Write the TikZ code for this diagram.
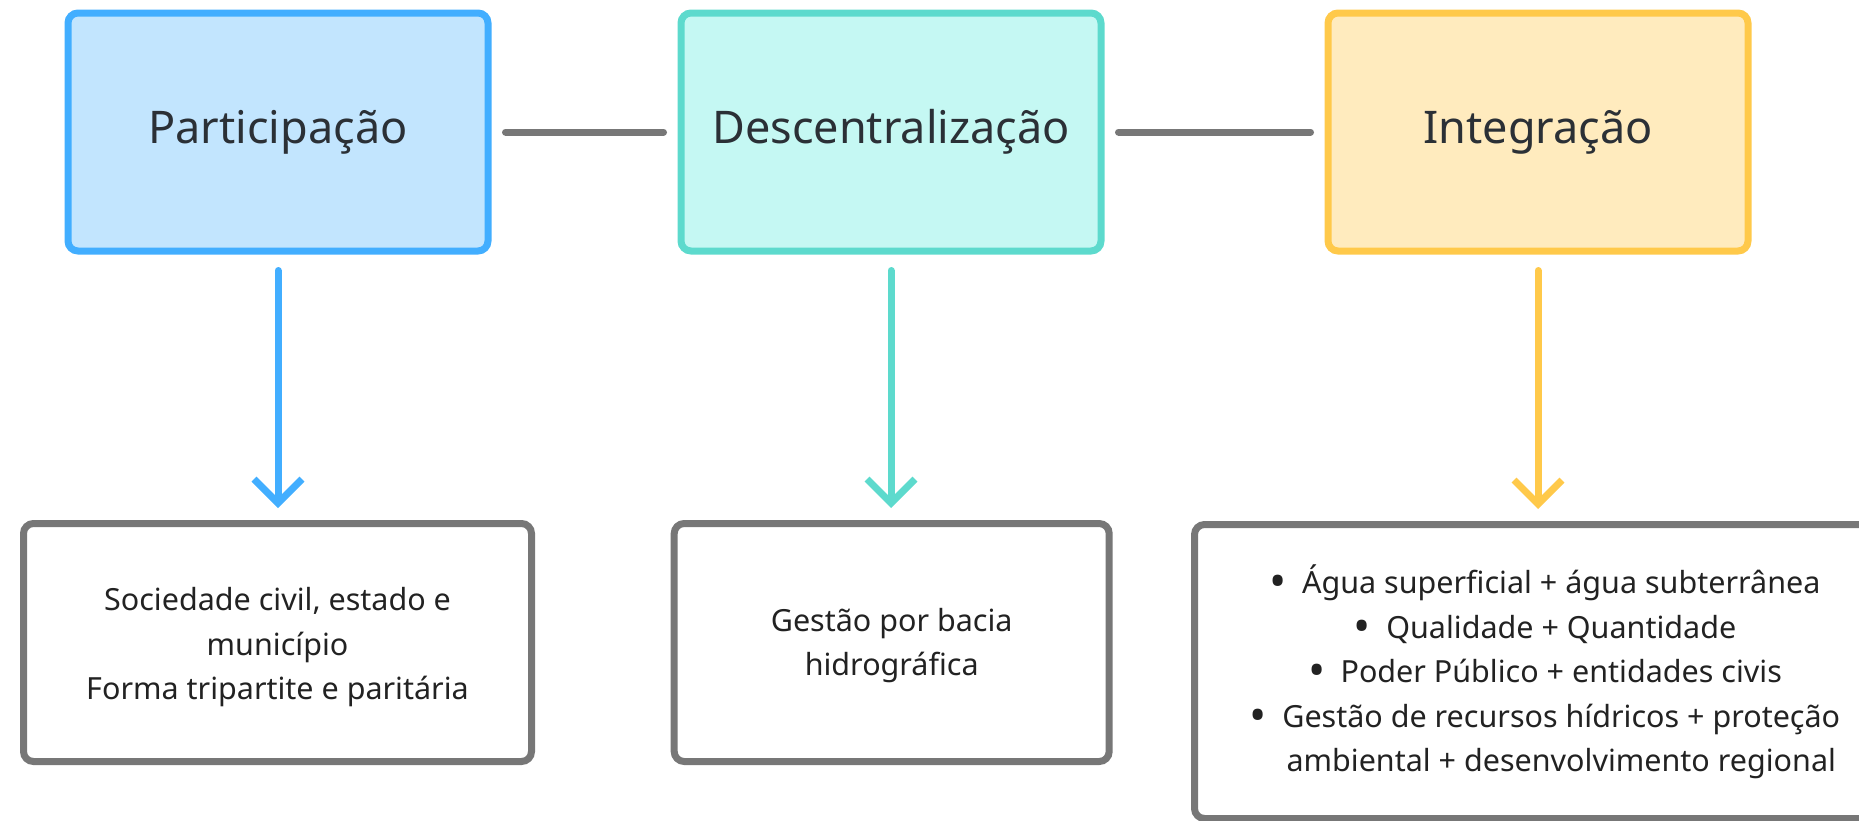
\documentclass[tikz,border=0pt]{standalone}
\usepackage{fontspec}
\setmainfont{Noto Sans}
\usetikzlibrary{arrows.meta}
\definecolor{bluebd}{HTML}{42AEFF}
\definecolor{bluefill}{HTML}{C2E5FE}
\definecolor{tealbd}{HTML}{5DDACD}
\definecolor{tealfill}{HTML}{C5F8F3}
\definecolor{yellowbd}{HTML}{FFC94A}
\definecolor{yellowfill}{HTML}{FFEBBE}
\definecolor{greyc}{HTML}{777777}
\definecolor{labeltext}{HTML}{2B3036}
\definecolor{bodytext}{HTML}{222222}
\newcommand{\bul}{\raisebox{-0.12em}{\scalebox{1.5}{\textbullet}}\hspace{0.5em}}
\newcommand{\tallstrut}[1]{\rule{0pt}{#1}}
\begin{document}
\begin{tikzpicture}[x=1pt,y=-1pt,
  topbox/.style={rounded corners=10pt, line width=7pt, minimum width=420pt, minimum height=238pt, inner sep=0pt, font=\fontsize{45}{54}\selectfont, text=labeltext},
  botbox/.style={draw=greyc, rounded corners=10pt, line width=7pt, inner sep=0pt, font=\fontsize{30.5}{44.5}\selectfont, align=center, text=bodytext},
  link/.style={draw=greyc, line width=7pt, line cap=round, shorten <=14pt, shorten >=14pt},
  down/.style={line width=7pt, line cap=round, line join=round, shorten <=16pt, shorten >=12pt, -{Straight Barb[length=24pt,width=48pt]}}
]
\clip (0,0) rectangle (1859,820);
\node[topbox, draw=bluebd, fill=bluefill] (p) at (278,132) {Participação};
\node[topbox, draw=tealbd, fill=tealfill] (d) at (891,132) {Descentralização};
\node[topbox, draw=yellowbd, fill=yellowfill] (i) at (1538,132) {Integração};

\node[botbox, minimum width=508pt, minimum height=238pt] (pb) at (277.5,642.5)
  {\tallstrut{33pt}Sociedade civil, estado e\\ município\\ Forma tripartite e paritária};
\node[botbox, minimum width=435pt, minimum height=238pt] (db) at (891.7,642.5)
  {\tallstrut{29pt}Gestão por bacia\\ hidrográfica};
\node[botbox, minimum width=701pt, minimum height=294pt] (ib) at (1545,671.5)
  {\tallstrut{30pt}\bul Água superficial + água subterrânea\\
   \bul Qualidade + Quantidade\\
   \bul Poder Público + entidades civis\\
   \bul Gestão de recursos hídricos + proteção\\
   \phantom{\bul}ambiental + desenvolvimento regional};

\draw[link] (p) -- (d);
\draw[link] (d) -- (i);

\draw[down, draw=bluebd] (p.south) -- (p.south |- pb.north);
\draw[down, draw=tealbd] (d.south) -- (d.south |- db.north);
\draw[down, draw=yellowbd] (i.south) -- (i.south |- ib.north);
\end{tikzpicture}
\end{document}
